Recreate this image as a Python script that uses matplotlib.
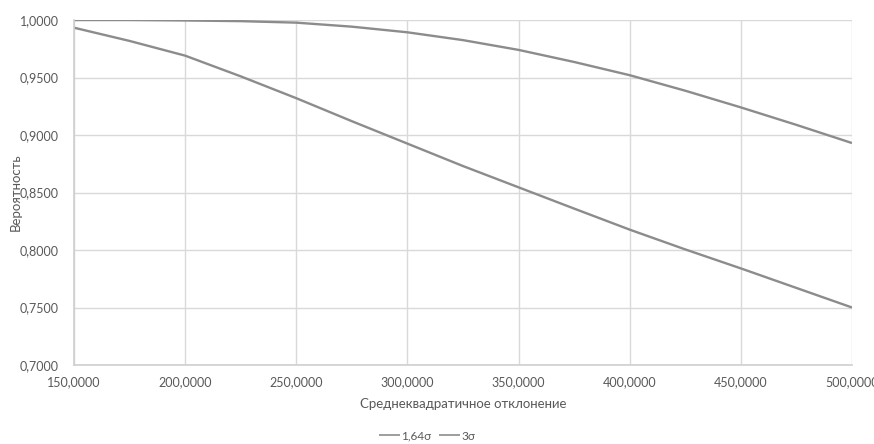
import matplotlib
matplotlib.use("Agg")
import matplotlib.pyplot as plt
from matplotlib.ticker import FuncFormatter

# Data
sigma = [150, 175, 200, 225, 250, 275, 300, 325, 350, 375, 400, 425, 450, 475, 500]
p_164 = [0.9933, 0.9818, 0.9690, 0.9510, 0.9320, 0.9120, 0.8925, 0.8730, 0.8545,
         0.8360, 0.8177, 0.8005, 0.7840, 0.7670, 0.7500]
p_3 = [1.0000, 1.0000, 0.9996, 0.9990, 0.9977, 0.9942, 0.9893, 0.9825, 0.9740,
       0.9635, 0.9520, 0.9385, 0.9240, 0.9088, 0.8930]
series_names = ["1,64σ", "3σ"]
x_ticks = [150, 200, 250, 300, 350, 400, 450, 500]
y_ticks = [0.70, 0.75, 0.80, 0.85, 0.90, 0.95, 1.00]

plt.rcParams['font.family'] = ['Lato', 'DejaVu Sans']
text_col = '#595959'
grid_col = '#d9d9d9'
line_col = '#8c8c8c'

fig = plt.figure(figsize=(8.74, 4.44), dpi=100)
ax = fig.add_axes([74/874, 1 - 365/444, (852-74)/874, (365-20)/444])

ax.plot(sigma, p_164, color=line_col, lw=1.7, label=series_names[0], solid_capstyle='butt')
ax.plot(sigma, p_3, color=line_col, lw=1.7, label=series_names[1], solid_capstyle='butt')

ax.set_xlim(150, 500)
ax.set_ylim(0.70, 1.00)
ax.set_xticks(x_ticks)
ax.set_yticks(y_ticks)
fmt = FuncFormatter(lambda v, p: f"{v:.4f}".replace('.', ','))
ax.xaxis.set_major_formatter(fmt)
ax.yaxis.set_major_formatter(fmt)
ax.grid(True, color=grid_col, lw=1.0)
ax.set_axisbelow(True)
for s in ['top', 'right']:
    ax.spines[s].set_visible(False)
for s in ['left', 'bottom']:
    ax.spines[s].set_color('#cfcfcf')
    ax.spines[s].set_linewidth(1.2)
ax.tick_params(length=0, colors=text_col, labelsize=9)
ax.tick_params(axis='x', pad=8)
ax.tick_params(axis='y', pad=11)

ax.set_xlabel("Среднеквадратичное отклонение", color=text_col, fontsize=9.5)
ax.set_ylabel("Вероятность", color=text_col, fontsize=9.5)
ax.xaxis.set_label_coords(0.5, -(404 - 365) / 345, transform=ax.transAxes)
ax.xaxis.label.set_va('center')
ax.yaxis.set_label_coords((16 - 74) / 778, 0.5, transform=ax.transAxes)
ax.yaxis.label.set_va('center')

leg = fig.legend(loc='center', bbox_to_anchor=(427/874, 1 - 436/444), ncol=2,
                 frameon=False, fontsize=8.5, handlelength=1.8, handletextpad=0.1,
                 columnspacing=0.6, labelcolor=text_col, borderpad=0.2)
for h in leg.get_lines():
    h.set_linewidth(1.2)

fig.savefig("out.png", dpi=100)
